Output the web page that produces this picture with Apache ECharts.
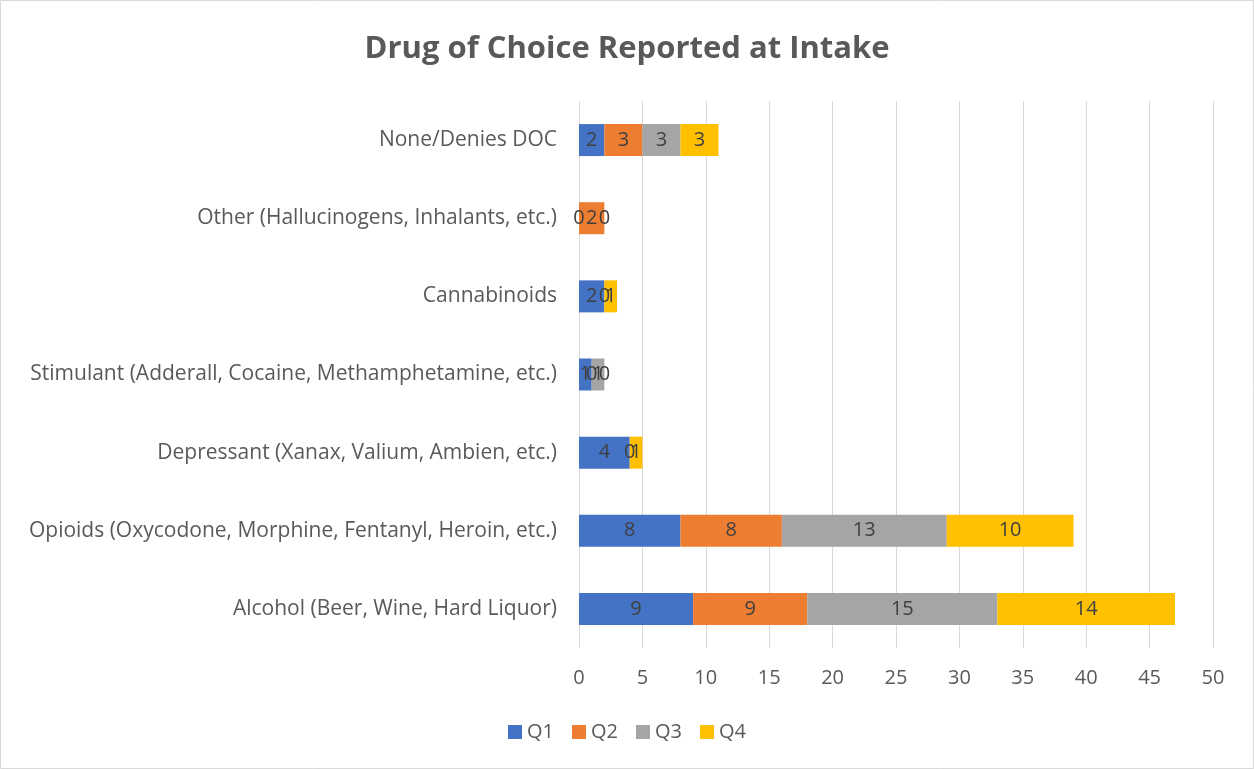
<!DOCTYPE html>
<html><head><meta charset="utf-8">
<script src="https://cdn.jsdelivr.net/npm/echarts@6/dist/echarts.min.js"></script>
<style>html,body{margin:0;padding:0;background:#fff}#c{width:1254px;height:769px}</style>
</head><body><div id="c"></div>
<script>
const categories = [
  "Alcohol (Beer, Wine, Hard Liquor)",
  "Opioids (Oxycodone, Morphine, Fentanyl, Heroin, etc.)",
  "Depressant (Xanax, Valium, Ambien, etc.)",
  "Stimulant (Adderall, Cocaine, Methamphetamine, etc.)",
  "Cannabinoids",
  "Other (Hallucinogens, Inhalants, etc.)",
  "None/Denies DOC"
];
const q1 = [9, 8, 4, 1, 2, 0, 2];
const q2 = [9, 8, 0, 0, 0, 2, 3];
const q3 = [15, 13, null, 1, null, 0, 3];
const q4 = [14, 10, 1, 0, 1, null, 3];
const seriesNames = ["Q1", "Q2", "Q3", "Q4"];
const colors = ["#4472C4", "#ED7D31", "#A5A5A5", "#FFC000"];

const font = "'Open Sans', 'Liberation Sans', sans-serif";
const chart = echarts.init(document.getElementById('c'));
const mk = (name, data, color) => ({
  name, type: 'bar', stack: 'total', data, barWidth: 32,
  itemStyle: { color },
  label: { show: true, position: 'inside', color: '#404040', fontSize: 20, fontFamily: font,
    formatter: p => p.value == null ? '' : String(p.value) }
});
chart.setOption({
  animation: false,
  title: { text: 'Drug of Choice Reported at Intake', left: 'center', top: 29,
    textStyle: { fontSize: 31, fontWeight: 'bold', color: '#595959', fontFamily: font } },
  legend: { bottom: 22, itemWidth: 14, itemHeight: 14, itemGap: 18, icon: 'rect',
    textStyle: { fontSize: 20, color: '#595959', fontFamily: font } },
  grid: { left: 579, right: 41, top: 101, bottom: 121, containLabel: false },
  xAxis: { type: 'value', min: 0, max: 50, interval: 5,
    axisLine: { show: false }, axisTick: { show: false },
    splitLine: { lineStyle: { color: '#D9D9D9', width: 1 } },
    axisLabel: { fontSize: 20, color: '#595959', fontFamily: font, margin: 20 } },
  yAxis: { type: 'category', data: categories,
    axisLine: { show: false }, axisTick: { show: false },
    axisLabel: { fontSize: 21, color: '#595959', fontFamily: font, margin: 22 } },
  series: [mk(seriesNames[0], q1, colors[0]), mk(seriesNames[1], q2, colors[1]),
           mk(seriesNames[2], q3, colors[2]), mk(seriesNames[3], q4, colors[3])],
  graphic: [{ type: 'rect', shape: { x: 0.5, y: 0.5, width: 1253, height: 768 },
    style: { fill: 'none', stroke: '#D9D9D9', lineWidth: 1 }, silent: true }]
});
</script></body></html>
